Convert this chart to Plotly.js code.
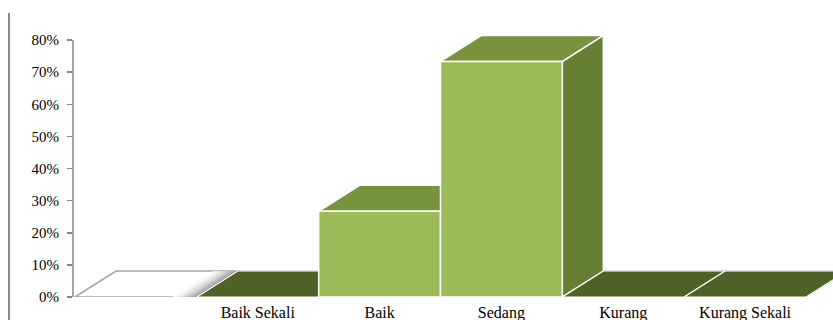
<!DOCTYPE html>
<html>
<head>
<meta charset="utf-8">
<script src="https://cdn.plot.ly/plotly-3.0.1.min.js"></script>
<style>html,body{margin:0;padding:0;background:#fff;}#chart{width:833px;height:320px;}</style>
</head>
<body>
<div id="chart"></div>
<script>
// ---- data ----
const categories = ['', 'Baik Sekali', 'Baik', 'Sedang', 'Kurang', 'Kurang Sekali'];
const values = [null, 0, 0.2667, 0.7333, 0, 0];
const yTickVals = [0, 0.1, 0.2, 0.3, 0.4, 0.5, 0.6, 0.7, 0.8];

// ---- style / 3D projection (in axis units) ----
const DX = 0.3365, DY = 0.0809, HALF = 0.5;
const cFront = '#9BBB59', cTop = '#77933C', cSide = '#657F35', cZeroTop = '#4F6228';
const traces = [];
function poly(xs, ys, fill, lineColor, lw) {
  traces.push({type: 'scatter', mode: 'lines', x: xs.concat([xs[0]]), y: ys.concat([ys[0]]),
    fill: 'toself', fillcolor: fill, line: {color: lineColor, width: lw}, hoverinfo: 'skip', showlegend: false});
}
const n = categories.length;
// floor
const fx0 = -HALF, fx1 = n - 1 + HALF;
poly([fx0, fx1, fx1 + DX, fx0 + DX], [0, 0, DY, DY], '#ffffff', '#A6A6A6', 1.5);
// shadow strips on floor, left of first drawn bar
let firstIdx = values.findIndex(v => v !== null);
const edgeX = firstIdx - HALF, steps = 8, w = 0.2;
for (let s = 0; s < steps; s++) {
  const a = edgeX - w + w * s / steps, b = edgeX - w + w * (s + 1) / steps;
  const g = Math.round(255 - (255 - 150) * Math.pow((s + 1) / steps, 1.6));
  poly([a, b, b + DX, a + DX], [0, 0, DY, DY], `rgb(${g},${g},${g})`, 'rgba(0,0,0,0)', 0);
}
// bars
values.forEach((v, i) => {
  if (v === null) return;
  const l = i - HALF, r = i + HALF;
  if (v > 0) {
    poly([r, r + DX, r + DX, r], [0, DY, v + DY, v], cSide, '#ffffff', 1.5);
    poly([l, r, r + DX, l + DX], [v, v, v + DY, v + DY], cTop, '#ffffff', 1.5);
    poly([l, r, r, l], [0, 0, v, v], cFront, '#ffffff', 1.5);
  } else {
    poly([l, r, r + DX, l + DX], [v, v, v + DY, v + DY], cZeroTop, '#ffffff', 1.2);
  }
});

const layout = {
  width: 833, height: 320,
  margin: {l: 73, r: 0, t: 5, b: 23},
  paper_bgcolor: '#fff', plot_bgcolor: 'rgba(0,0,0,0)',
  showlegend: false,
  font: {family: '"Liberation Serif", "Times New Roman", serif', size: 15, color: '#000'},
  xaxis: {
    range: [-0.5 - 2 / 121.83, -0.5 + 758 / 121.83],
    tickmode: 'array', tickvals: categories.map((c, i) => i), ticktext: categories,
    showgrid: false, zeroline: false, showline: false,
    ticks: 'outside', ticklen: 1, tickcolor: 'rgba(0,0,0,0)',
    tickfont: {size: 16}, fixedrange: true
  },
  yaxis: {
    range: [0, (297 - 5) / 321.25],
    tickmode: 'array', tickvals: yTickVals, tickformat: '.0%',
    showgrid: false, zeroline: false, showline: false,
    ticks: 'outside', ticklen: 5, tickcolor: '#868686', tickwidth: 1.5,
    ticklabelstandoff: 5,
    tickfont: {size: 15}, fixedrange: true
  },
  shapes: [
    {type: 'line', xref: 'paper', yref: 'y', x0: 0, x1: 0, y0: 0, y1: yTickVals[yTickVals.length - 1],
      line: {color: '#868686', width: 1.5}},
    {type: 'line', xref: 'paper', yref: 'paper', x0: -64 / 760, x1: -64 / 760, y0: -0.1, y1: 0.973,
      line: {color: '#8c8c8c', width: 2}}
  ]
};
Plotly.newPlot('chart', traces, layout, {displayModeBar: false, staticPlot: true});
</script>
</body>
</html>
